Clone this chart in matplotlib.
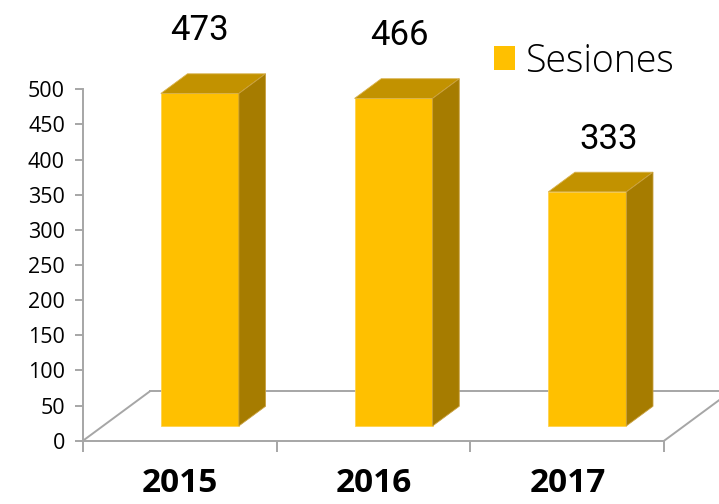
import matplotlib
matplotlib.use("Agg")
import matplotlib.pyplot as plt
from matplotlib.patches import Polygon, Patch

# data
years = ["2015", "2016", "2017"]
sesiones = [473, 466, 333]
yticks = list(range(0, 501, 50))
# small nudges of the value labels (x in categories, y in data units)
label_dx = [0.0, 0.03, 0.11]
label_dy = [0, 0, -15]

front_col = "#FFC000"
top_col = "#C29200"
side_col = "#A67C00"
grid_col = "#A6A6A6"

fig = plt.figure(figsize=(7.19, 5.04), dpi=100)
ax = fig.add_axes([83 / 719, (504 - 440.7) / 504, 1 - 83 / 719, 440.7 / 504])
ax.set_xlim(-0.5, 2.783)
ax.set_ylim(0, 627)

# floor depth and bar width
DX, DY = 0.344, 70
W = 0.403
f0, f1 = 0.3, 0.7

# floor outline
n = len(years)
x_left, x_right = -0.5, n - 0.5
ax.plot([x_left, x_left + DX], [0, DY], color=grid_col, lw=1.4, zorder=1)
ax.plot([x_left + DX, x_right + DX], [DY, DY], color=grid_col, lw=1.4, zorder=1)
ax.plot([x_right, x_right + DX], [0, DY], color=grid_col, lw=1.4, zorder=1, clip_on=False)

# 3d-looking bars
bdx, bdy = (f1 - f0) * DX, (f1 - f0) * DY
for i, v in enumerate(sesiones):
    cx = i + f0 * DX
    x0, x1 = cx - W / 2, cx + W / 2
    y0, y1 = f0 * DY, f0 * DY + v
    ax.add_patch(Polygon([(x0, y0), (x1, y0), (x1, y1), (x0, y1)],
                         facecolor=front_col, edgecolor="#FFD24D", lw=0.6, zorder=3))
    ax.add_patch(Polygon([(x0, y1), (x1, y1), (x1 + bdx, y1 + bdy), (x0 + bdx, y1 + bdy)],
                         facecolor=top_col, edgecolor="#D9B24D", lw=0.6, zorder=3))
    ax.add_patch(Polygon([(x1, y0), (x1 + bdx, y0 + bdy), (x1 + bdx, y1 + bdy), (x1, y1)],
                         facecolor=side_col, edgecolor="#C9A040", lw=0.6, zorder=3))
    # value label
    ax.text(cx + label_dx[i], v + 97 + label_dy[i], str(v), ha="center", va="baseline",
            fontsize=25, family=["Roboto", "DejaVu Sans"], color="black")
    # category label
    ax.text(i, -73, years[i], ha="center", va="baseline", fontsize=24, fontweight="bold",
            family=["Open Sans", "DejaVu Sans"], color="black", clip_on=False)

# axes styling
for s in ["top", "right"]:
    ax.spines[s].set_visible(False)
ax.spines["left"].set_bounds(0, 500)
ax.spines["bottom"].set_bounds(x_left, x_right)
ax.spines["left"].set_color(grid_col)
ax.spines["bottom"].set_color(grid_col)
ax.spines["left"].set_linewidth(1.4)
ax.spines["bottom"].set_linewidth(1.4)

ax.set_yticks(yticks)
ax.set_yticklabels([str(t) for t in yticks], family=["Open Sans", "DejaVu Sans"], fontsize=15.5)
ax.tick_params(axis="y", length=6, width=1.4, color=grid_col, pad=7)
ax.set_xticks([x_left + k for k in range(n + 1)])
ax.set_xticklabels([])
ax.tick_params(axis="x", length=8, width=1.4, color=grid_col, direction="out")

# legend
leg = ax.legend(handles=[Patch(facecolor=front_col, label="Sesiones")],
                loc="upper left", bbox_to_anchor=(494 / 719, 1 - 42 / 504),
                bbox_transform=fig.transFigure, frameon=False,
                prop={"family": ["Open Sans", "Lato", "DejaVu Sans"], "weight": "light", "size": 27},
                handlelength=0.56, handleheight=0.59, handletextpad=0.3, borderpad=0,
                borderaxespad=0)

fig.savefig("out.png", dpi=100)
